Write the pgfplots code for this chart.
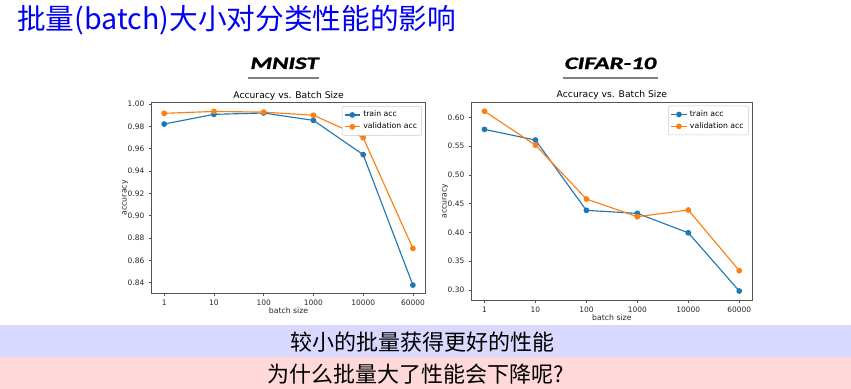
\documentclass[border=0pt]{standalone}
\usepackage{pgfplots}
\pgfplotsset{compat=1.18}
\usepackage{fontspec}
\newfontfamily\dejavu{DejaVu Sans}
\newfontfamily\cjk{Noto Sans CJK SC}
\newfontfamily\headfont{Carlito}[BoldItalicFeatures={FakeBold=1.2}]
\definecolor{mplblue}{HTML}{1F77B4}
\definecolor{mplorange}{HTML}{FF7F0E}
\definecolor{bandA}{HTML}{D9D9FF}
\definecolor{bandB}{HTML}{FFD9D9}
\definecolor{spine}{HTML}{555555}
\definecolor{titleblue}{HTML}{0000F5}

\pgfplotsset{
  mplstyle/.style={
    scale only axis,
    axis line style={spine, line width=0.5pt},
    tick pos=left, tick align=outside, major tick length=2pt,
    every tick/.style={spine, line width=0.5pt},
    xmin=-0.25, xmax=5.25,
    xtick={0,1,2,3,4,5}, xticklabels={1,10,100,1000,10000,60000},
    ticklabel style={font=\dejavu\fontsize{5.6pt}{6pt}\selectfont, text=black!85},
    /pgf/number format/assume math mode=true,
    yticklabel style={/pgf/number format/fixed, /pgf/number format/fixed zerofill, /pgf/number format/precision=2},
    every axis title shift=0pt,
    title style={at={(0.5,1)}, anchor=base, yshift=3.5pt, inner sep=0pt, font=\dejavu\fontsize{6.9pt}{7pt}\selectfont},
    title={Accuracy vs. Batch Size},
    xlabel={batch size}, ylabel={accuracy},
    label style={font=\dejavu\fontsize{5.8pt}{6pt}\selectfont, text=black!85},
    xlabel style={at={(ticklabel cs:0.5,-2pt)}, anchor=near ticklabel, inner sep=0pt},
    ylabel style={at={(ticklabel cs:0.5,-4pt)}, anchor=near ticklabel, inner sep=0pt},
    legend style={at={(1,1)}, anchor=north east, xshift=-2.5pt, yshift=-2.5pt,
      draw=black!20, rounded corners=1.5pt, fill=white,
      font=\dejavu\fontsize{5.8pt}{6pt}\selectfont, inner sep=1.5pt, row sep=-1pt,
      cells={anchor=west}},
    legend image code/.code={\draw[mark repeat=2,mark phase=2] plot coordinates {(0pt,0pt) (5.8pt,0pt) (11.6pt,0pt)};},
    every axis plot/.append style={line width=0.85pt, mark=*, mark size=1.7pt, mark options={solid}},
  }
}

\begin{document}
\begin{tikzpicture}
\useasboundingbox (0,0) rectangle (638.25pt,-291.75pt);
\fill[white] (0,0) rectangle (638.25pt,-291.75pt);
\fill[bandA] (0,-243.75pt) rectangle (638.25pt,-267.75pt);
\fill[bandB] (0,-267.75pt) rectangle (638.25pt,-291.75pt);

\node[anchor=west, text=titleblue, inner sep=0pt] at (12.75pt,-15pt)
  {\cjk\fontsize{21.5pt}{24pt}\selectfont 批量(batch)大小对分类性能的影响};

\node[inner sep=0pt] at (213.4pt,-47.5pt)
  {\scalebox{1.42}[1]{\headfont\bfseries\itshape\fontsize{13.1pt}{14pt}\selectfont MNIST}};
\node[inner sep=0pt] at (457.9pt,-47.5pt)
  {\scalebox{1.42}[1]{\headfont\bfseries\itshape\fontsize{13.1pt}{14pt}\selectfont CIFAR-10}};
\draw[line width=1.5pt, color=black!50] (186pt,-58.5pt) -- (239.25pt,-58.5pt);
\draw[line width=1.5pt, color=black!50] (422.25pt,-58.5pt) -- (493.5pt,-58.5pt);

\node[inner sep=0pt] at (316.5pt,-256.9pt)
  {\cjk\fontsize{16.5pt}{18pt}\selectfont 较小的批量获得更好的性能};
\node[inner sep=0pt] at (312pt,-280.9pt)
  {\cjk\fontsize{16.5pt}{18pt}\selectfont 为什么批量大了性能会下降呢?};

% MNIST
\begin{axis}[mplstyle,
  at={(113.8pt,-219.75pt)}, anchor=south west,
  width=205.2pt, height=142.7pt,
  ymin=0.8307, ymax=1.0012,
  ytick={0.84,0.86,0.88,0.90,0.92,0.94,0.96,0.98,1.00},
]
\addplot[color=mplblue] coordinates {(0,0.9821) (1,0.9908) (2,0.9920) (3,0.9854) (4,0.9547) (5,0.8378)};
\addlegendentry{train acc}
\addplot[color=mplorange] coordinates {(0,0.9917) (1,0.9934) (2,0.9928) (3,0.9900) (4,0.9700) (5,0.8707)};
\addlegendentry{validation acc}
\end{axis}

% CIFAR-10
\begin{axis}[mplstyle,
  at={(353.8pt,-225pt)}, anchor=south west,
  width=210.2pt, height=148.3pt,
  ymin=0.2827, ymax=0.6261,
  ytick={0.30,0.35,0.40,0.45,0.50,0.55,0.60},
]
\addplot[color=mplblue] coordinates {(0,0.5790) (1,0.5605) (2,0.4384) (3,0.4331) (4,0.3994) (5,0.2983)};
\addlegendentry{train acc}
\addplot[color=mplorange] coordinates {(0,0.6105) (1,0.5517) (2,0.4581) (3,0.4273) (4,0.4390) (5,0.3337)};
\addlegendentry{validation acc}
\end{axis}
\end{tikzpicture}
\end{document}
